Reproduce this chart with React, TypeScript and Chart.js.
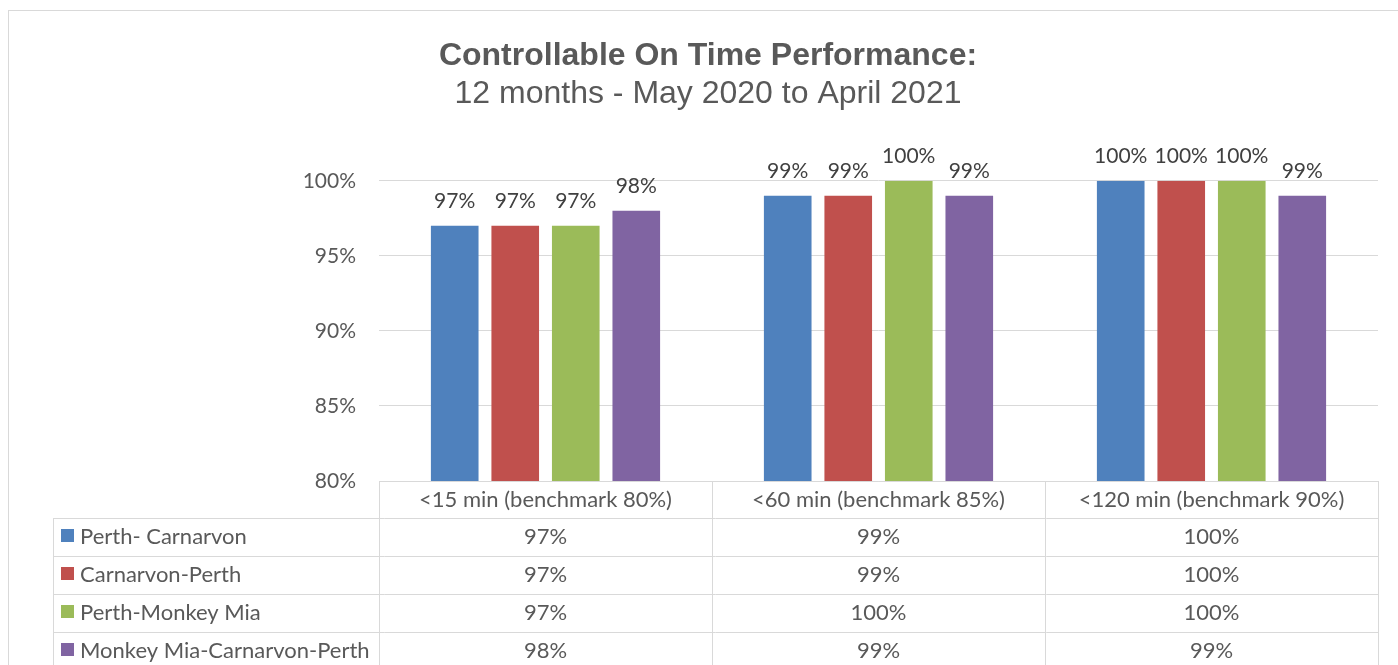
import React, { useEffect, useRef } from "react";
import { Chart, registerables } from "chart.js";

Chart.register(...registerables);

// ---- data ----
const categories = ["<15 min (benchmark 80%)", "<60 min (benchmark 85%)", "<120 min (benchmark 90%)"];
const seriesNames = ["Perth- Carnarvon", "Carnarvon-Perth", "Perth-Monkey Mia", "Monkey Mia-Carnarvon-Perth"];
const perthCarnarvon = [97, 99, 100];
const carnarvonPerth = [97, 99, 100];
const perthMonkeyMia = [97, 100, 100];
const monkeyMiaCarnarvonPerth = [98, 99, 99];
const seriesValues = [perthCarnarvon, carnarvonPerth, perthMonkeyMia, monkeyMiaCarnarvonPerth];
const seriesColors = ["#4F81BD", "#C0504D", "#9BBB59", "#8064A2"];
const yMin = 80;
const yMax = 100;
const yStep = 5;
const titleText = "Controllable On Time Performance:";
const subtitleText = "12 months - May 2020 to April 2021";

const W = 1398;
const H = 665;
const FONT = "Lato, 'Open Sans', sans-serif";
const TEXT = "#595959";
const LINE = "#d9d9d9";

const px = (v: number) => Math.round(v) + 0.5;

const tablePlugin = {
  id: "frameTable",
  beforeDraw(chart: any) {
    const ctx = chart.ctx;
    ctx.save();
    ctx.fillStyle = "#ffffff";
    ctx.fillRect(0, 0, chart.width, chart.height);
    ctx.strokeStyle = LINE;
    ctx.lineWidth = 1;
    ctx.strokeRect(8.5, 10.5, chart.width + 50, chart.height + 50);
    ctx.restore();
  },
  afterDatasetsDraw(chart: any) {
    const ctx = chart.ctx;
    ctx.save();
    ctx.font = `21px ${FONT}`;
    ctx.fillStyle = "#404040";
    ctx.textAlign = "center";
    ctx.textBaseline = "alphabetic";
    chart.data.datasets.forEach((ds: any, di: number) => {
      const meta = chart.getDatasetMeta(di);
      meta.data.forEach((el: any, i: number) => {
        ctx.fillText(ds.data[i] + "%", el.x, el.y - 18);
      });
    });
    ctx.restore();
  },
  afterDraw(chart: any) {
    const { ctx, chartArea } = chart;
    const xs = chart.scales.x;
    const left = chartArea.left;
    const right = chartArea.right;
    const top = chartArea.bottom;
    const headerH = 37;
    const rowH = 38;
    const labelLeft = 53;
    const n = categories.length;
    const half = (xs.getPixelForValue(1) - xs.getPixelForValue(0)) / 2;
    const centers = categories.map((_, i) => xs.getPixelForValue(i));
    const bottom = top + headerH + seriesNames.length * rowH;

    ctx.save();
    ctx.strokeStyle = LINE;
    ctx.lineWidth = 1;
    ctx.beginPath();
    ctx.moveTo(left, px(top));
    ctx.lineTo(right, px(top));
    for (let r = 0; r <= seriesNames.length; r++) {
      const y = px(top + headerH + r * rowH);
      ctx.moveTo(labelLeft, y);
      ctx.lineTo(right, y);
    }
    for (let i = 0; i < n; i++) {
      const x0 = px(centers[i] - half);
      ctx.moveTo(x0, top);
      ctx.lineTo(x0, bottom);
    }
    ctx.moveTo(px(centers[n - 1] + half), top);
    ctx.lineTo(px(centers[n - 1] + half), bottom);
    ctx.moveTo(px(labelLeft), top + headerH);
    ctx.lineTo(px(labelLeft), bottom);
    ctx.stroke();

    ctx.font = `22px ${FONT}`;
    ctx.fillStyle = TEXT;
    ctx.textBaseline = "alphabetic";
    ctx.textAlign = "center";
    categories.forEach((c, i) => {
      ctx.fillText(c, centers[i], top + 26);
    });
    seriesNames.forEach((name, r) => {
      const rowTop = top + headerH + r * rowH;
      ctx.fillStyle = seriesColors[r];
      ctx.fillRect(61, rowTop + 11, 13, 13);
      ctx.fillStyle = TEXT;
      ctx.textAlign = "left";
      ctx.fillText(name, 80, rowTop + 26);
      ctx.textAlign = "center";
      seriesValues[r].forEach((v, i) => {
        ctx.fillText(v + "%", centers[i], rowTop + 26);
      });
    });
    ctx.restore();
  },
};

export default function App() {
  const ref = useRef<HTMLCanvasElement | null>(null);

  useEffect(() => {
    if (!ref.current) return;
    const chart = new Chart(ref.current, {
      type: "bar",
      data: {
        labels: categories,
        datasets: seriesNames.map((name, i) => ({
          label: name,
          data: seriesValues[i],
          backgroundColor: seriesColors[i],
          borderWidth: 0,
          categoryPercentage: 0.727,
          barPercentage: 0.787,
        })),
      },
      options: {
        responsive: false,
        animation: false,
        layout: { padding: { top: 0, left: 38, right: 20, bottom: H - 481 } },
        plugins: {
          legend: { display: false },
          tooltip: { enabled: false },
          title: {
            display: true,
            text: titleText,
            color: TEXT,
            font: { family: "'Liberation Sans', Arial, sans-serif", size: 32, weight: "bold", lineHeight: 1.2 },
            padding: { top: 37, bottom: 0 },
          },
          subtitle: {
            display: true,
            text: subtitleText,
            color: TEXT,
            font: { family: "'Liberation Sans', Arial, sans-serif", size: 32, weight: "normal", lineHeight: 1.2 },
            padding: { top: 0, bottom: 67 },
          },
        },
        scales: {
          x: { display: false },
          y: {
            min: yMin,
            max: yMax,
            border: { display: false },
            grid: { color: LINE, lineWidth: 1, drawTicks: false },
            ticks: {
              stepSize: yStep,
              padding: 23,
              color: TEXT,
              font: { family: FONT, size: 21 },
              callback: (v: any) => v + "%",
            },
            afterFit: (scale: any) => {
              scale.width = 341;
            },
          },
        },
      },
      plugins: [tablePlugin],
    });
    return () => chart.destroy();
  }, []);

  return (
    <div style={{ position: "absolute", left: 0, top: 0, width: W, height: H, overflow: "hidden", background: "#fff" }}>
      <canvas ref={ref} width={W} height={H} style={{ display: "block", width: W, height: H }} />
    </div>
  );
}
